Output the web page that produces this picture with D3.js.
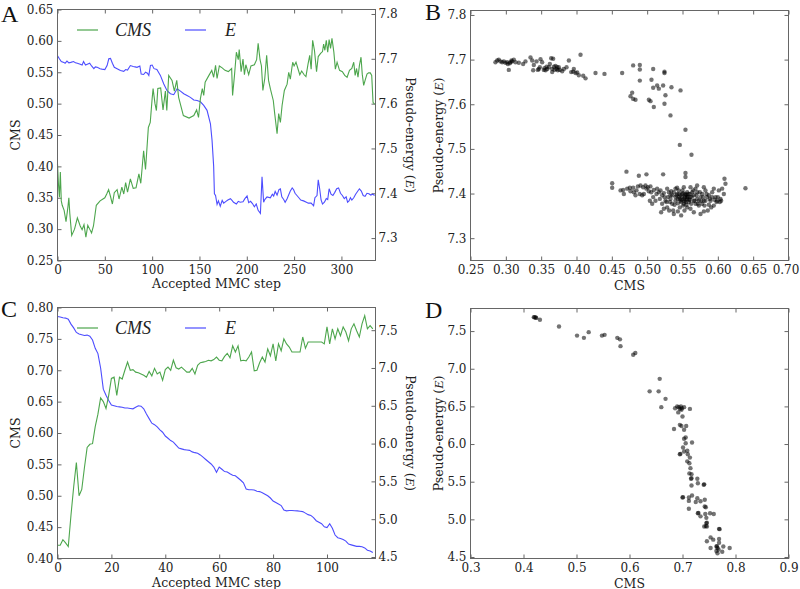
<!DOCTYPE html>
<html><head><meta charset="utf-8">
<script src="https://cdn.jsdelivr.net/npm/d3@7"></script>
<style>body{margin:0;background:#fff}svg{display:block}</style>
</head><body>
<svg id="c" width="800" height="589"></svg>
<script>
// ---------- DATA ----------
// Panel A: accepted MMC step vs CMS / pseudo-energy (run 1)
const aCms = [[0,0.404],[1,0.372],[2,0.351],[3,0.391],[4,0.345],[5,0.338],[7,0.330],[9,0.312],[11,0.335],[12,0.350],[13,0.325],[15,0.290],[18,0.300],[21,0.318],[24,0.305],[26,0.299],[28,0.307],[30,0.287],[32,0.306],[34,0.300],[36,0.294],[38,0.305],[41,0.338],[45,0.345],[50,0.350],[52,0.356],[54,0.363],[56,0.352],[58,0.340],[60,0.358],[63,0.363],[65,0.348],[68,0.367],[70,0.356],[72,0.374],[74,0.359],[77,0.380],[80,0.365],[83,0.366],[86,0.388],[88,0.373],[91,0.425],[93,0.395],[96,0.462],[98,0.470],[100,0.508],[101,0.524],[103,0.500],[104.5,0.489],[106,0.524],[109,0.525],[111.5,0.490],[114,0.520],[115.5,0.489],[117.5,0.545],[121,0.537],[123.5,0.520],[126,0.537],[128,0.510],[133,0.481],[139,0.477],[144,0.481],[147,0.490],[149,0.478],[151,0.508],[153,0.524],[154.5,0.513],[156,0.534],[160,0.545],[163,0.553],[165,0.542],[167,0.561],[168.6,0.540],[171,0.560],[174,0.557],[177,0.553],[180.5,0.551],[184,0.556],[185,0.513],[187,0.545],[189,0.582],[191,0.570],[192,0.586],[194,0.551],[196,0.571],[197.5,0.546],[199,0.562],[202,0.546],[204.4,0.560],[208,0.562],[210.4,0.570],[212,0.596],[214,0.570],[215.5,0.560],[217,0.521],[219,0.540],[221,0.577],[223,0.537],[225,0.523],[228,0.505],[229.5,0.484],[232,0.452],[233.7,0.484],[235.5,0.470],[237.3,0.497],[239.7,0.521],[242.6,0.531],[244.3,0.550],[246,0.539],[248.5,0.566],[250,0.560],[252,0.566],[254,0.556],[256,0.546],[258,0.552],[260.6,0.546],[262.5,0.543],[264.7,0.563],[266.5,0.577],[268,0.555],[269.6,0.601],[271.5,0.585],[273.7,0.551],[275.5,0.575],[278,0.580],[280,0.583],[281.2,0.595],[282.5,0.585],[284,0.601],[285.5,0.582],[287,0.602],[288.5,0.588],[290,0.604],[292,0.582],[293.6,0.555],[295.4,0.566],[298,0.553],[301,0.551],[303.5,0.545],[306,0.542],[308.5,0.553],[311,0.556],[313,0.566],[314.5,0.545],[316,0.556],[317.5,0.542],[319,0.561],[320.7,0.574],[322,0.547],[323.5,0.529],[325,0.537],[327,0.547],[328.7,0.549],[330.5,0.549],[332,0.545],[333.4,0.502],[335,0.499]];
const aE = [[0,7.707],[2,7.700],[4,7.694],[6.7,7.692],[8,7.690],[10,7.695],[12,7.691],[14,7.692],[17,7.694],[19,7.691],[21,7.690],[24,7.688],[26,7.686],[27.5,7.694],[29.6,7.686],[31.5,7.688],[34,7.690],[36,7.684],[38.4,7.678],[40,7.682],[42,7.681],[45,7.678],[47,7.677],[50,7.676],[52.4,7.685],[54.2,7.700],[56,7.701],[58,7.690],[60,7.681],[63,7.678],[66.5,7.674],[70,7.672],[72,7.676],[74,7.675],[77,7.685],[80,7.683],[82,7.682],[84,7.681],[87,7.684],[88.4,7.666],[91,7.665],[93,7.670],[95,7.668],[96.5,7.663],[98.2,7.685],[100,7.686],[102,7.678],[105,7.676],[108.7,7.663],[112.3,7.644],[115.8,7.629],[119.3,7.622],[122.8,7.620],[126.4,7.633],[129.9,7.628],[133.4,7.622],[136.9,7.618],[140.4,7.614],[144,7.608],[147.5,7.607],[151,7.604],[154.5,7.596],[158,7.585],[161.6,7.555],[163.3,7.518],[165,7.460],[165.8,7.399],[167,7.395],[168.6,7.375],[170,7.383],[172,7.371],[174,7.384],[175.6,7.378],[178,7.382],[180,7.385],[182.7,7.388],[184.4,7.384],[186,7.380],[189,7.376],[191,7.382],[193,7.380],[196,7.381],[198,7.388],[200.3,7.394],[202,7.379],[204,7.382],[206,7.377],[208,7.370],[210,7.376],[212,7.362],[214.4,7.355],[216.1,7.437],[217.8,7.380],[219,7.386],[221.4,7.392],[224.9,7.390],[227,7.398],[228.4,7.394],[230,7.404],[232,7.396],[234,7.408],[235.5,7.410],[237,7.392],[239,7.386],[240.5,7.380],[242.6,7.388],[244,7.395],[246,7.405],[248,7.412],[249.5,7.408],[251,7.400],[253,7.395],[255,7.390],[257,7.385],[260,7.383],[263,7.380],[265,7.378],[268,7.378],[270.6,7.372],[272,7.390],[274.2,7.395],[275.5,7.430],[277,7.410],[278.5,7.385],[280,7.376],[282,7.380],[284,7.388],[285.5,7.386],[287,7.410],[289,7.398],[291,7.395],[293,7.402],[295,7.410],[297,7.412],[299,7.400],[301,7.395],[303,7.388],[305,7.392],[306.5,7.380],[308,7.383],[309.5,7.390],[311,7.385],[313,7.390],[315,7.398],[317,7.404],[319,7.410],[321,7.405],[323,7.395],[325,7.393],[327,7.400],[329,7.399],[331,7.396],[333,7.398],[335,7.395]];

// Panel B: CMS vs pseudo-energy (run 1)
const bPoints = [[0.2853,7.694],[0.2877,7.698],[0.2900,7.700],[0.2924,7.696],[0.2948,7.694],[0.2971,7.696],[0.2995,7.693],[0.3019,7.694],[0.3028,7.690],[0.3042,7.677],[0.3056,7.692],[0.3066,7.694],[0.3080,7.698],[0.3089,7.696],[0.3113,7.700],[0.3137,7.694],[0.3184,7.693],[0.3245,7.690],[0.3278,7.696],[0.3349,7.705],[0.3373,7.698],[0.3387,7.676],[0.3396,7.688],[0.3434,7.696],[0.3453,7.677],[0.3467,7.679],[0.3481,7.683],[0.3491,7.701],[0.3514,7.694],[0.3538,7.677],[0.3547,7.681],[0.3562,7.676],[0.3576,7.684],[0.3585,7.679],[0.3609,7.683],[0.3623,7.690],[0.3642,7.703],[0.3656,7.672],[0.3656,7.679],[0.3670,7.702],[0.3680,7.684],[0.3689,7.677],[0.3703,7.686],[0.3717,7.679],[0.3727,7.683],[0.3736,7.676],[0.3750,7.683],[0.3764,7.677],[0.3797,7.674],[0.3821,7.679],[0.3859,7.683],[0.3892,7.698],[0.3925,7.672],[0.3953,7.673],[0.3962,7.679],[0.3986,7.670],[0.4010,7.671],[0.4033,7.665],[0.4057,7.711],[0.4095,7.664],[0.4128,7.658],[0.4269,7.670],
[0.4396,7.668],[0.4646,7.670],[0.4802,7.687],[0.4896,7.688],[0.4896,7.678],[0.5085,7.679],[0.5245,7.673],[0.5245,7.670],[0.4896,7.653],[0.5061,7.655],[0.4788,7.626],[0.4764,7.618],[0.4802,7.612],[0.4835,7.610],[0.5024,7.610],[0.5047,7.607],[0.5085,7.637],[0.5141,7.642],[0.5165,7.635],[0.5226,7.642],[0.5344,7.638],[0.5259,7.620],[0.5472,7.631],[0.5245,7.601],[0.5094,7.594],[0.5330,7.575],[0.5542,7.543],[0.5462,7.509],[0.5627,7.487],
[0.4707,7.449],[0.4505,7.423],[0.4505,7.413],[0.4882,7.440],[0.4990,7.443],[0.5226,7.443],[0.5542,7.446],[0.5542,7.437],[0.6094,7.433],[0.6108,7.422],[0.6391,7.412],[0.4670,7.399],[0.4660,7.408],[0.4717,7.411],[0.4755,7.413],[0.4811,7.403],[0.4868,7.416],[0.4906,7.418],[0.4943,7.414],[0.4976,7.418],[0.5009,7.414],[0.4835,7.396],[0.4929,7.396],[0.4953,7.399],[0.5071,7.377],[0.5118,7.384],[0.5023,7.405],[0.5094,7.408],[0.5141,7.411],[0.5165,7.403],[0.5189,7.407],[0.5212,7.396],[0.5198,7.358],[0.5259,7.384],[0.5283,7.369],[0.5307,7.403],[0.5330,7.388],[0.5354,7.377],[0.5368,7.362],[0.5377,7.354],[0.5401,7.411],[0.5424,7.399],[0.5448,7.392],[0.5472,7.384],[0.5481,7.351],[0.5509,7.373],[0.5542,7.399],[0.5566,7.388],[0.5590,7.381],[0.5613,7.366],[0.5637,7.403],[0.5660,7.396],[0.5684,7.411],[0.5707,7.388],[0.5731,7.373],[0.5755,7.354],[0.5778,7.399],[0.5802,7.384],[0.5825,7.407],[0.5849,7.392],[0.5858,7.362],[0.5873,7.375],[0.5896,7.384],[0.5920,7.403],[0.5943,7.411],[0.5967,7.392],[0.5991,7.384],[0.6014,7.407],[0.6028,7.381],[0.6061,7.411],[0.5802,7.414],[0.5707,7.418],[0.5613,7.414],[0.5519,7.414],[0.5424,7.413],[0.6085,7.399],[0.6038,7.388],[0.5283,7.411],[0.5236,7.401],[0.5354,7.396],[0.5401,7.384],[0.5448,7.407],[0.5495,7.399],[0.5542,7.386],[0.5566,7.369],[0.5613,7.392],[0.5660,7.384],[0.5684,7.377],[0.5707,7.403],[0.5731,7.384],[0.5755,7.392],[0.5778,7.377],[0.5825,7.384],[0.5873,7.396],[0.5920,7.392],[0.5943,7.373],[0.5981,7.381],
[0.5472,7.396],[0.5495,7.392],[0.5519,7.388],[0.5533,7.392],[0.5556,7.397],[0.5575,7.393],[0.5509,7.401],[0.5462,7.388],[0.5481,7.381],[0.5547,7.381],[0.5594,7.386],[0.5434,7.388],[0.5519,7.377],[0.5566,7.403],[0.5604,7.399],[0.5401,7.392],[0.5377,7.403],[0.5330,7.396],
[0.5292,7.392],[0.5321,7.381],[0.5340,7.405],[0.5387,7.375],[0.5415,7.396],[0.5434,7.378],[0.5453,7.399],[0.5462,7.369],[0.5490,7.386],[0.5500,7.407],[0.5528,7.383],[0.5538,7.396],[0.5556,7.375],[0.5566,7.392],[0.5585,7.399],[0.5604,7.386],[0.5623,7.377],[0.5632,7.393],[0.5651,7.407],[0.5670,7.384],[0.5698,7.396],[0.5717,7.377],[0.5745,7.403],[0.5764,7.384],[0.5792,7.392],[0.5811,7.373],[0.5840,7.399],[0.5887,7.388],[0.5906,7.369],[0.5953,7.386],[0.6000,7.392],[0.6047,7.384],[0.5132,7.399],[0.5085,7.392],[0.5038,7.384],[0.5057,7.403],[0.5179,7.388],[0.5212,7.377],[0.5245,7.392],[0.5273,7.381],[0.5236,7.366],[0.5311,7.362],[0.5434,7.360],[0.5528,7.362],[0.5660,7.358],[0.5802,7.360],[0.4764,7.405],[0.4802,7.413],[0.4849,7.407],[0.4896,7.399],[0.4990,7.411],[0.5047,7.416],[0.4623,7.407]];

// Panel C: accepted MMC step (index) vs CMS / pseudo-energy (run 2)
const cCms = [0.421,0.421,0.430,0.425,0.419,0.469,0.514,0.553,0.500,0.510,0.545,0.577,0.582,0.583,0.610,0.630,0.656,0.650,0.639,0.660,0.687,0.689,0.660,0.689,0.686,0.700,0.713,0.700,0.701,0.697,0.696,0.694,0.692,0.689,0.698,0.691,0.703,0.694,0.697,0.684,0.701,0.705,0.700,0.716,0.704,0.702,0.705,0.701,0.697,0.697,0.703,0.694,0.708,0.712,0.713,0.714,0.716,0.715,0.717,0.721,0.716,0.715,0.722,0.727,0.720,0.739,0.729,0.739,0.715,0.716,0.715,0.721,0.729,0.699,0.700,0.712,0.721,0.713,0.734,0.723,0.742,0.715,0.742,0.731,0.750,0.742,0.737,0.729,0.729,0.729,0.729,0.753,0.735,0.745,0.745,0.745,0.745,0.745,0.745,0.742,0.769,0.742,0.766,0.750,0.766,0.755,0.769,0.761,0.747,0.766,0.774,0.763,0.753,0.774,0.787,0.766,0.771,0.766];
const cE = [7.681,7.675,7.664,7.660,7.645,7.580,7.530,7.470,7.450,7.440,7.430,7.435,7.420,7.370,7.260,7.190,7.000,6.720,6.640,6.570,6.510,6.500,6.490,6.485,6.480,6.470,6.470,6.465,6.460,6.480,6.500,6.495,6.460,6.390,6.330,6.270,6.250,6.220,6.180,6.150,6.100,6.070,6.040,6.020,5.980,5.940,5.930,5.920,5.915,5.910,5.890,5.880,5.873,5.850,5.820,5.790,5.760,5.730,5.690,5.620,5.690,5.660,5.630,5.625,5.600,5.580,5.575,5.545,5.515,5.480,5.400,5.390,5.390,5.385,5.370,5.365,5.350,5.330,5.310,5.280,5.240,5.220,5.200,5.180,5.120,5.110,5.115,5.115,5.112,5.110,5.105,5.100,5.080,5.060,5.050,5.020,4.980,4.960,4.940,4.900,4.890,4.940,4.880,4.790,4.755,4.745,4.730,4.710,4.670,4.660,4.650,4.640,4.640,4.635,4.620,4.590,4.580,4.560];

// Panel D: CMS vs pseudo-energy (run 2)
const dPoints = [[0.4195,7.685],[0.421,7.683],[0.423,7.680],[0.424,7.675],[0.431,7.650],[0.467,7.560],[0.501,7.440],[0.514,7.410],[0.523,7.486],[0.548,7.440],[0.553,7.450],[0.577,7.410],[0.582,7.390],[0.583,7.300],[0.607,7.185],[0.611,7.210],[0.657,6.866],[0.638,6.700],[0.655,6.700],[0.668,6.600],[0.660,6.490],[0.686,6.476],[0.690,6.500],[0.693,6.490],[0.695,6.467],[0.697,6.500],[0.699,6.476],[0.703,6.490],[0.698,6.455],[0.692,6.420],[0.714,6.467],[0.700,6.365],[0.695,6.255],[0.698,6.240],[0.707,6.240],[0.703,6.190],[0.684,6.200],[0.706,6.087],[0.703,6.070],[0.718,6.020],[0.706,6.010],[0.701,5.955],[0.695,5.865],[0.696,5.870],[0.703,5.900],[0.709,5.910],[0.710,5.865],[0.714,5.820],[0.709,5.770],[0.713,5.745],[0.715,5.680],[0.713,5.610],[0.717,5.600],[0.716,5.540],[0.717,5.545],[0.728,5.540],[0.729,5.480],[0.740,5.460],[0.741,5.465],[0.717,5.450],[0.700,5.290],[0.701,5.295],[0.712,5.290],[0.718,5.316],[0.728,5.280],[0.712,5.245],[0.725,5.230],[0.734,5.240],[0.742,5.260],[0.742,5.170],[0.744,5.160],[0.712,5.140],[0.729,5.080],[0.730,5.085],[0.734,5.040],[0.743,5.070],[0.752,5.080],[0.759,5.070],[0.745,5.020],[0.745,4.950],[0.746,4.955],[0.741,4.905],[0.744,4.910],[0.746,4.905],[0.769,4.874],[0.770,4.870],[0.753,4.760],[0.746,4.710],[0.758,4.730],[0.769,4.740],[0.769,4.690],[0.764,4.640],[0.765,4.645],[0.753,4.620],[0.766,4.620],[0.777,4.640],[0.789,4.620],[0.764,4.580],[0.775,4.570],[0.766,4.550],[0.768,4.600]];

// Ticks
const aXTicks = [0,50,100,150,200,250,300];
const aCmsTicks = [0.25,0.30,0.35,0.40,0.45,0.50,0.55,0.60,0.65];
const aETicks = [7.3,7.4,7.5,7.6,7.7,7.8];
const bXTicks = [0.25,0.30,0.35,0.40,0.45,0.50,0.55,0.60,0.65,0.70];
const bYTicks = [7.3,7.4,7.5,7.6,7.7,7.8];
const cXTicks = [0,20,40,60,80,100];
const cCmsTicks = [0.40,0.45,0.50,0.55,0.60,0.65,0.70,0.75,0.80];
const cETicks = [4.5,5.0,5.5,6.0,6.5,7.0,7.5];
const dXTicks = [0.3,0.4,0.5,0.6,0.7,0.8,0.9];
const dYTicks = [4.5,5.0,5.5,6.0,6.5,7.0,7.5];

// ---------- DRAWING ----------
const svg = d3.select("#c");
const SERIF = "'DejaVu Serif', serif";
const GREEN = "#4da64d", BLUE = "#4d4dff", SPINE = "#666";

function ax(axis, tr) {
  const g = svg.append("g").attr("transform", tr).call(axis);
  g.select(".domain").remove();
  g.selectAll(".tick line").attr("stroke", SPINE);
  g.selectAll(".tick text").attr("font-family", SERIF).attr("font-size", 12).attr("fill", "#222");
  return g;
}
function frame(L, T, R, B) {
  svg.append("rect").attr("x", L).attr("y", T).attr("width", R - L).attr("height", B - T)
    .attr("fill", "none").attr("stroke", SPINE).attr("stroke-width", 1);
}
function label(txt, x, y, rot, size, italicTail) {
  const t = svg.append("text").attr("transform", `translate(${x},${y}) rotate(${rot})`)
    .attr("text-anchor", "middle").attr("dominant-baseline", "central")
    .attr("font-family", SERIF).attr("font-size", size).attr("fill", "#222");
  t.append("tspan").text(txt);
  if (italicTail) {
    t.append("tspan").attr("font-style", "italic").attr("font-family", "'Liberation Serif', serif").attr("font-size", size + 1).text("E");
    t.append("tspan").text(")");
  }
}
function letter(ch, x, y) {
  svg.append("text").attr("x", x).attr("y", y).attr("font-family", "'Liberation Serif', serif")
    .attr("font-size", 24).attr("fill", "#111").text(ch);
}
function legend(y) {
  const items = [["CMS", GREEN, 77, 115], ["E", BLUE, 185, 225]];
  items.forEach(([t, c, x0, tx]) => {
    svg.append("line").attr("x1", x0).attr("x2", x0 + 21).attr("y1", y).attr("y2", y).attr("stroke", c).attr("stroke-width", 1.2);
    svg.append("text").attr("x", tx).attr("y", y).attr("dominant-baseline", "central")
      .attr("font-family", "'Liberation Serif', serif").attr("font-style", "italic").attr("font-size", 18).attr("fill", "#222").text(t);
  });
}

// ---- Panel geometry ----
const PA = {L: 57.5, R: 375.5, T: 9.5, B: 260.5};
const PB = {L: 470.5, R: 788.5, T: 10.5, B: 260.5};
const PC = {L: 57.5, R: 375.5, T: 307.5, B: 558.5};
const PD = {L: 470.5, R: 788.5, T: 308.5, B: 558.5};

// ---- Panel A ----
{
  const x = d3.scaleLinear().domain([0, 336]).range([PA.L, PA.R]);
  const y1 = d3.scaleLinear().domain([0.25, 0.65]).range([PA.B, PA.T]);
  const y2 = d3.scaleLinear().domain([7.25, 7.81]).range([PA.B, PA.T]);
  ax(d3.axisBottom(x).tickValues(aXTicks).tickFormat(d3.format("d")).tickSize(-4).tickPadding(5), `translate(0,${PA.B})`);
  ax(d3.axisTop(x).tickValues(aXTicks).tickFormat("").tickSize(-4), `translate(0,${PA.T})`);
  ax(d3.axisLeft(y1).tickValues(aCmsTicks).tickFormat(d3.format(".2f")).tickSize(-4).tickPadding(4), `translate(${PA.L},0)`);
  ax(d3.axisRight(y2).tickValues(aETicks).tickFormat(d3.format(".1f")).tickSize(-4).tickPadding(3), `translate(${PA.R},0)`);
  svg.append("path").datum(aE).attr("fill", "none").attr("stroke", BLUE).attr("stroke-width", 1.1)
    .attr("d", d3.line().x(d => x(d[0])).y(d => y2(d[1])));
  svg.append("path").datum(aCms).attr("fill", "none").attr("stroke", GREEN).attr("stroke-width", 1.1)
    .attr("d", d3.line().x(d => x(d[0])).y(d => y1(d[1])));
  frame(PA.L, PA.T, PA.R, PA.B);
  legend(30);
  label("Accepted MMC step", (PA.L + PA.R) / 2, 283, 0, 12.5);
  label("CMS", 15, (PA.T + PA.B) / 2, -90, 12.5);
  label("Pseudo-energy (", 411, (PA.T + PA.B) / 2, 90, 12.5, true);
  letter("A", 1, 22);
}
// ---- Panel B ----
{
  const x = d3.scaleLinear().domain([0.25, 0.70]).range([PB.L, PB.R]);
  const y = d3.scaleLinear().domain([7.25, 7.81]).range([PB.B, PB.T]);
  const gx = ax(d3.axisBottom(x).tickValues(bXTicks).tickFormat(d3.format(".2f")).tickSize(-4).tickPadding(5), `translate(0,${PB.B})`);
  gx.selectAll(".tick text").filter(d => d === 0.70).attr("dx", -3);
  ax(d3.axisTop(x).tickValues(bXTicks).tickFormat("").tickSize(-4), `translate(0,${PB.T})`);
  ax(d3.axisLeft(y).tickValues(bYTicks).tickFormat(d3.format(".1f")).tickSize(-4).tickPadding(4), `translate(${PB.L},0)`);
  ax(d3.axisRight(y).tickValues(bYTicks).tickFormat("").tickSize(-4), `translate(${PB.R},0)`);
  svg.append("g").selectAll("circle").data(bPoints).join("circle")
    .attr("cx", d => x(d[0])).attr("cy", d => y(d[1])).attr("r", 2.2)
    .attr("fill", "#000").attr("fill-opacity", 0.55);
  frame(PB.L, PB.T, PB.R, PB.B);
  label("CMS", (PB.L + PB.R) / 2, 285, 0, 12.5);
  label("Pseudo-energy (", 438, (PB.T + PB.B) / 2, -90, 12.5, true);
  letter("B", 425, 20);
}
// ---- Panel C ----
{
  const x = d3.scaleLinear().domain([0, 118]).range([PC.L, PC.R]);
  const y1 = d3.scaleLinear().domain([0.40, 0.80]).range([PC.B, PC.T]);
  const y2 = d3.scaleLinear().domain([4.48, 7.80]).range([PC.B, PC.T]);
  ax(d3.axisBottom(x).tickValues(cXTicks).tickFormat(d3.format("d")).tickSize(-4).tickPadding(5), `translate(0,${PC.B})`);
  ax(d3.axisTop(x).tickValues(cXTicks).tickFormat("").tickSize(-4), `translate(0,${PC.T})`);
  ax(d3.axisLeft(y1).tickValues(cCmsTicks).tickFormat(d3.format(".2f")).tickSize(-4).tickPadding(4), `translate(${PC.L},0)`);
  ax(d3.axisRight(y2).tickValues(cETicks).tickFormat(d3.format(".1f")).tickSize(-4).tickPadding(3), `translate(${PC.R},0)`);
  svg.append("path").datum(cE).attr("fill", "none").attr("stroke", BLUE).attr("stroke-width", 1.1)
    .attr("d", d3.line().x((d, i) => x(i)).y(d => y2(d)));
  svg.append("path").datum(cCms).attr("fill", "none").attr("stroke", GREEN).attr("stroke-width", 1.1)
    .attr("d", d3.line().x((d, i) => x(i)).y(d => y1(d)));
  frame(PC.L, PC.T, PC.R, PC.B);
  legend(328);
  label("Accepted MMC step", (PC.L + PC.R) / 2, 582, 0, 12.5);
  label("CMS", 15, (PC.T + PC.B) / 2, -90, 12.5);
  label("Pseudo-energy (", 411, (PC.T + PC.B) / 2, 90, 12.5, true);
  letter("C", 1, 317);
}
// ---- Panel D ----
{
  const x = d3.scaleLinear().domain([0.3, 0.9]).range([PD.L, PD.R]);
  const y = d3.scaleLinear().domain([4.48, 7.80]).range([PD.B, PD.T]);
  ax(d3.axisBottom(x).tickValues(dXTicks).tickFormat(d3.format(".1f")).tickSize(-4).tickPadding(5), `translate(0,${PD.B})`);
  ax(d3.axisTop(x).tickValues(dXTicks).tickFormat("").tickSize(-4), `translate(0,${PD.T})`);
  ax(d3.axisLeft(y).tickValues(dYTicks).tickFormat(d3.format(".1f")).tickSize(-4).tickPadding(4), `translate(${PD.L},0)`);
  ax(d3.axisRight(y).tickValues(dYTicks).tickFormat("").tickSize(-4), `translate(${PD.R},0)`);
  svg.append("g").selectAll("circle").data(dPoints).join("circle")
    .attr("cx", d => x(d[0])).attr("cy", d => y(d[1])).attr("r", 2.2)
    .attr("fill", "#000").attr("fill-opacity", 0.55);
  frame(PD.L, PD.T, PD.R, PD.B);
  label("CMS", (PD.L + PD.R) / 2, 583, 0, 12.5);
  label("Pseudo-energy (", 438, (PD.T + PD.B) / 2, -90, 12.5, true);
  letter("D", 425, 318);
}
</script>
</body></html>
